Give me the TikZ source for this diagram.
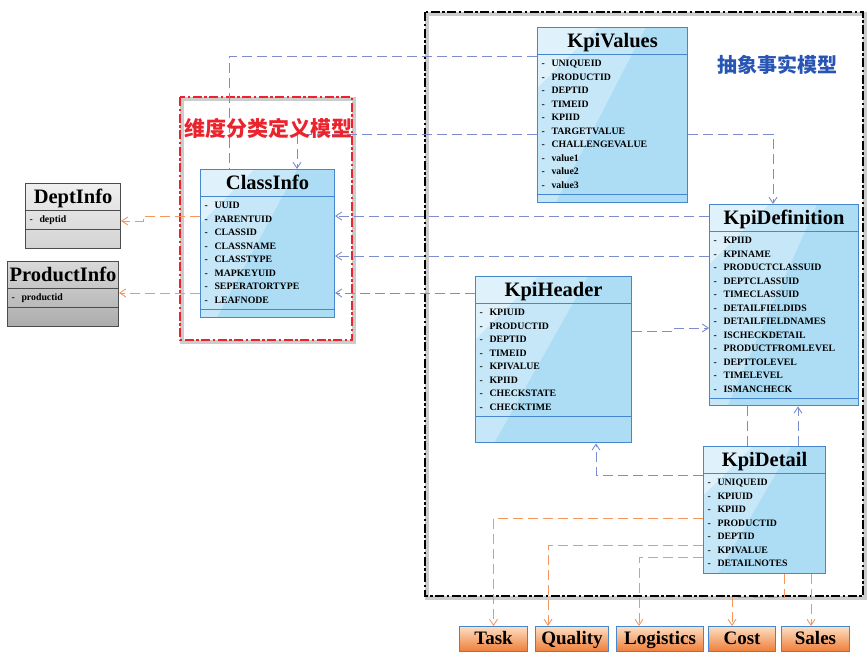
\documentclass[tikz,border=0pt]{standalone}
\usepackage{fontspec}
\setmainfont{Liberation Serif}
\newfontfamily\cjk{Noto Sans CJK SC}
\usetikzlibrary{shapes.multipart,arrows.meta,calc}
\definecolor{umlfill}{RGB}{172,221,245}
\definecolor{umlborder}{RGB}{70,135,205}
\definecolor{fkblue}{RGB}{125,140,205}
\definecolor{fkorange}{RGB}{245,150,95}
\definecolor{dimred}{RGB}{235,35,45}
\definecolor{factblue}{RGB}{40,85,180}
\definecolor{boxorange}{RGB}{238,125,55}
\definecolor{boxpeach}{RGB}{253,222,195}

\newcommand{\ctitle}[1]{\makebox[\linewidth]{\fontsize{20.5}{22}\selectfont\rule[-5pt]{0pt}{22pt}#1}}
\newcommand{\fld}[1]{\strut\makebox[10pt][l]{-}#1}

\tikzset{
  umlclass/.style={rectangle split, rectangle split parts=3, draw=umlborder, line width=1.1pt,
    fill=umlfill, anchor=north west, inner xsep=4pt, inner ysep=2pt, align=left,
    font=\bfseries\fontsize{9.8}{13.5}\selectfont,
    path picture={
      \fill[white,opacity=.3] let \p1=(path picture bounding box.north west), \p2=(path picture bounding box.south east)
        in (\p1) -- (\x1+0.72*\x2-0.72*\x1,\y1) -- (\x1+0.12*\x2-0.12*\x1,\y2) -- (\x1,\y2) -- cycle;
      \fill[white,opacity=.45] let \p1=(path picture bounding box.north west), \p2=(path picture bounding box.south east)
        in (\p1) -- (\x1+0.4*\x2-0.4*\x1,\y1) -- (\x1,\y1-0.4*\x2+0.4*\x1) -- cycle;
    }},
  umlgray/.style={umlclass, draw=black!70, top color=gray!12, bottom color=gray!35, path picture={}},
  umldark/.style={umlclass, draw=black!70, top color=gray!30, bottom color=gray!65, path picture={}},
  outbox/.style={draw=umlborder, line width=1pt, top color=boxpeach, bottom color=boxorange,
    minimum height=25pt, inner sep=0pt, text height=14pt, text depth=4pt, anchor=north west,
    font=\bfseries\fontsize{19}{22}\selectfont},
  fkline/.style={draw=fkblue, line width=0.9pt, dash pattern=on 10pt off 5pt},
  dimline/.style={draw=fkorange, line width=0.9pt, dash pattern=on 10pt off 5pt},
  factframe/.style={line width=2.6pt, dash pattern=on 9pt off 2.5pt on 2.5pt off 2.5pt,
    preaction={draw=black!20, line width=4pt, solid, transform canvas={shift={(2pt,-2pt)}}}},
  dimframe/.style={dimred, line width=2.6pt, dash pattern=on 9pt off 2.5pt on 2.5pt off 2.5pt,
    preaction={draw=black!20, line width=4pt, solid, transform canvas={shift={(2pt,-2pt)}}}},
}

\begin{document}
\begin{tikzpicture}[x=1pt, y=-1pt, >={Straight Barb[length=6pt,width=8pt]}]
\useasboundingbox (0,0) rectangle (867,653);

% Model frames
\draw[factframe] (425,12) rectangle (863,596);
\draw[dimframe] (180,97) rectangle (352,340);

% Dimension tables
\node[umlgray, text width=87pt] (deptinfo) at (25,183)
  {\ctitle{DeptInfo}\nodepart{two}\fld{deptid}\nodepart{three}\rule{0pt}{14pt}};
\node[umldark, text width=103pt] (productinfo) at (7,261)
  {\ctitle{ProductInfo}\nodepart{two}\fld{productid}\nodepart{three}\rule{0pt}{14pt}};

\node[umlclass, text width=126pt] (classinfo) at (200,169)
  {\ctitle{ClassInfo}\nodepart{two}\fld{UUID}\\\fld{PARENTUID}\\\fld{CLASSID}\\\fld{CLASSNAME}\\
   \fld{CLASSTYPE}\\\fld{MAPKEYUID}\\\fld{SEPERATORTYPE}\\\fld{LEAFNODE}\nodepart{three}\rule{0pt}{3pt}};

% Fact tables
\node[umlclass, text width=142pt] (kpivalues) at (537,27)
  {\ctitle{KpiValues}\nodepart{two}\fld{UNIQUEID}\\\fld{PRODUCTID}\\\fld{DEPTID}\\\fld{TIMEID}\\\fld{KPIID}\\
   \fld{TARGETVALUE}\\\fld{CHALLENGEVALUE}\\\fld{value1}\\\fld{value2}\\\fld{value3}\nodepart{three}\rule{0pt}{3pt}};

\node[umlclass, text width=141pt] (kpidef) at (709,204)
  {\ctitle{KpiDefinition}\nodepart{two}\fld{KPIID}\\\fld{KPINAME}\\\fld{PRODUCTCLASSUID}\\\fld{DEPTCLASSUID}\\
   \fld{TIMECLASSUID}\\\fld{DETAILFIELDIDS}\\\fld{DETAILFIELDNAMES}\\\fld{ISCHECKDETAIL}\\
   \fld{PRODUCTFROMLEVEL}\\\fld{DEPTTOLEVEL}\\\fld{TIMELEVEL}\\\fld{ISMANCHECK}\nodepart{three}\rule{0pt}{2pt}};

\node[umlclass, text width=148pt] (kpiheader) at (475,276)
  {\ctitle{KpiHeader}\nodepart{two}\fld{KPIUID}\\\fld{PRODUCTID}\\\fld{DEPTID}\\\fld{TIMEID}\\
   \fld{KPIVALUE}\\\fld{KPIID}\\\fld{CHECKSTATE}\\\fld{CHECKTIME}\nodepart{three}\rule{0pt}{21pt}};

\node[umlclass, rectangle split parts=2, text width=114pt] (kpidetail) at (703,446)
  {\ctitle{KpiDetail}\nodepart{two}\fld{UNIQUEID}\\\fld{KPIUID}\\\fld{KPIID}\\\fld{PRODUCTID}\\
   \fld{DEPTID}\\\fld{KPIVALUE}\\\fld{DETAILNOTES}};

% Subject areas
\node[outbox, minimum width=68pt] (task) at (459,626) {Task};
\node[outbox, minimum width=73pt] (quality) at (535,626) {Quality};
\node[outbox, minimum width=87pt] (logistics) at (616,626) {Logistics};
\node[outbox, minimum width=67pt] (cost) at (708,626) {Cost};
\node[outbox, minimum width=68pt] (sales) at (781,626) {Sales};

% Blue references
\draw[fkline] ([yshift=-29pt]kpivalues.north west) -| ([xshift=29pt]classinfo.north west);
\draw[fkline,->] ([yshift=-107pt]kpivalues.north west) -| ([xshift=97pt]classinfo.north west);
\draw[fkline,->] ([yshift=-107pt]kpivalues.north east) -| ([xshift=64pt]kpidef.north west);
\coordinate (d1) at ([yshift=-12pt]kpidef.north west);
\coordinate (d2) at ([yshift=-52pt]kpidef.north west);
\coordinate (h1) at ([yshift=-17pt]kpiheader.north west);
\draw[fkline,->] (d1) -- (d1 -| classinfo.east);
\draw[fkline,->] (d2) -- (d2 -| classinfo.east);
\draw[fkline,->] (h1) -- (h1 -| classinfo.east);
\coordinate (h2) at ([yshift=-55pt]kpiheader.north east);
\draw[fkline,->] (h2) -- ++(41pt,0) |- ([yshift=-124pt]kpidef.north west);
\coordinate (t1) at ([yshift=-29pt]kpidetail.north west);
\draw[fkline,->] (t1) -| ([xshift=121pt]kpiheader.south west);
\coordinate (t2) at ([xshift=44pt]kpidetail.north west);
\coordinate (t3) at ([xshift=95pt]kpidetail.north west);
\draw[fkline] (t2) -- (t2 |- kpidef.south);
\draw[fkline,->] (t3) -- (t3 |- kpidef.south);

% Orange references
\coordinate (p1) at ([yshift=-47pt]classinfo.north west);
\coordinate (p2) at ([yshift=-124pt]classinfo.north west);
\draw[dimline,->] (p1) -- ++(-57pt,0) |- ([yshift=-38pt]deptinfo.north east);
\draw[dimline,->] (p2) -- (p2 -| productinfo.east);
\coordinate (o1) at ([yshift=-72pt]kpidetail.north west);
\coordinate (o2) at ([yshift=-99pt]kpidetail.north west);
\coordinate (o3) at ([yshift=-111pt]kpidetail.north west);
\coordinate (o4) at ([xshift=81pt]kpidetail.south west);
\coordinate (o5) at ([xshift=108pt]kpidetail.south west);
\draw[dimline,->] (o1) -| (task.north);
\draw[dimline,->] (o2) -| ([xshift=13pt]quality.north west);
\draw[dimline,->] (o3) -| ([xshift=23pt]logistics.north west);
\draw[dimline,->] (o4) -- ++(0,-24pt) -| ([xshift=24pt]cost.north west);
\draw[dimline,->] (o5) -- (o5 |- sales.north);

% Frame titles
\node[text=dimred, font=\cjk\bfseries\fontsize{21}{23}\selectfont] (dimlabel) at (268,128) {维度分类定义模型};
\node[text=factblue, font=\cjk\bfseries\fontsize{20}{22}\selectfont] (factlabel) at (777,65) {抽象事实模型};
\end{tikzpicture}
\end{document}
